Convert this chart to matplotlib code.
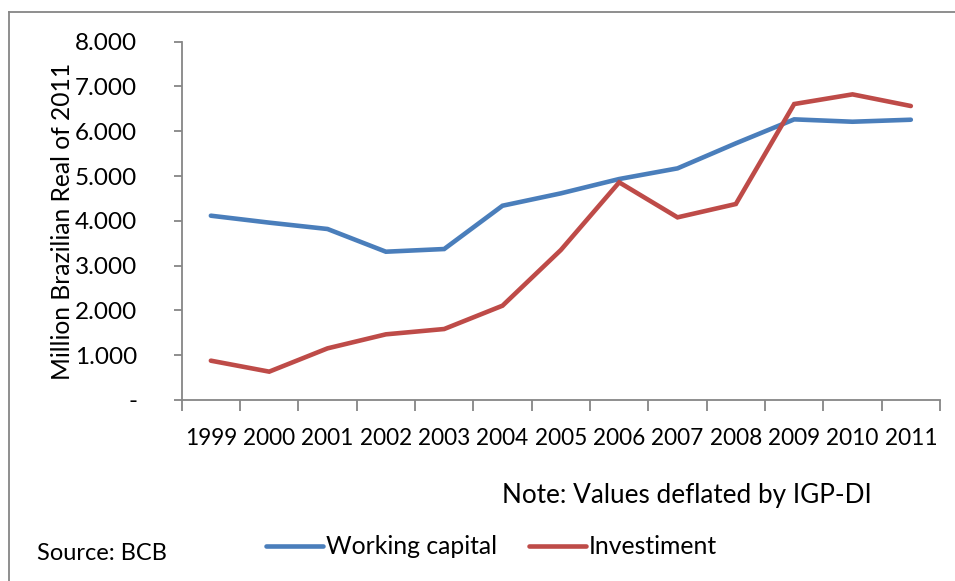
import matplotlib.pyplot as plt
from matplotlib.lines import Line2D
from matplotlib.ticker import FuncFormatter

plt.rcParams['font.family'] = ['Lato', 'DejaVu Sans']

years = ['1999', '2000', '2001', '2002', '2003', '2004', '2005',
         '2006', '2007', '2008', '2009', '2010', '2011']
working_capital = [4115, 3960, 3818, 3311, 3371, 4338, 4614,
                   4934, 5172, 5731, 6266, 6213, 6258]
investiment = [878, 633, 1153, 1466, 1585, 2106, 3349,
               4860, 4078, 4376, 6608, 6824, 6564]

W, H = 955, 581
fig = plt.figure(figsize=(W / 100, H / 100), dpi=100)
ax = fig.add_axes([181.7 / W, 1 - 400 / H, (940 - 181.7) / W, (400 - 41.7) / H])

blue = '#4a7ebb'
red = '#be4b48'
grey = '#868686'

x = range(len(years))
ax.plot(x, working_capital, color=blue, lw=3.3, solid_capstyle='round',
        solid_joinstyle='miter', label='Working capital')
ax.plot(x, investiment, color=red, lw=3.3, solid_capstyle='round',
        solid_joinstyle='miter', label='Investiment')

ax.set_xlim(-0.5, len(years) - 0.5)
ax.set_ylim(0, 8000)
ax.set_yticks(range(0, 8001, 1000))
ax.yaxis.set_major_formatter(FuncFormatter(
    lambda v, p: '-' if v == 0 else f'{int(v):,}'.replace(',', '.')))

# category boundaries carry the ticks, labels sit between them
ax.set_xticks([i - 0.5 for i in range(len(years) + 1)])
ax.set_xticklabels([])
ax.set_xticks(list(x), minor=True)
ax.set_xticklabels(years, minor=True)
ax.tick_params(axis='x', which='major', direction='out', length=8, color=grey, width=1.3)
ax.tick_params(axis='x', which='minor', length=0, pad=20, labelsize=16.3)
ax.tick_params(axis='y', direction='out', length=6, color=grey, width=1.3, pad=26, labelsize=17.5)

for s in ['top', 'right']:
    ax.spines[s].set_visible(False)
for s in ['left', 'bottom']:
    ax.spines[s].set_color(grey)
    ax.spines[s].set_linewidth(1.3)

fig.text(62 / W, 1 - 221 / H, 'Million Brazilian Real of 2011', rotation=90,
         ha='center', va='center', fontsize=17.7)
fig.text(502 / W, 1 - 495 / H, 'Note: Values deflated by IGP-DI',
         ha='left', va='center', fontsize=18.8)
fig.text(37 / W, 1 - 553 / H, 'Source: BCB', ha='left', va='center', fontsize=17)

fig.legend(loc='center left', bbox_to_anchor=(266 / W, 1 - 547 / H), ncol=2,
           frameon=False, fontsize=17.8, handlelength=2.3, handletextpad=0.12,
           columnspacing=1.3, borderpad=0, borderaxespad=0)

# outer chart frame
fig.add_artist(Line2D([9 / W, 1], [1 - 12 / H, 1 - 12 / H], color=grey, lw=1.3))
fig.add_artist(Line2D([9 / W, 9 / W], [0, 1 - 12 / H], color=grey, lw=1.3))

fig.savefig('out.png', dpi=100)
